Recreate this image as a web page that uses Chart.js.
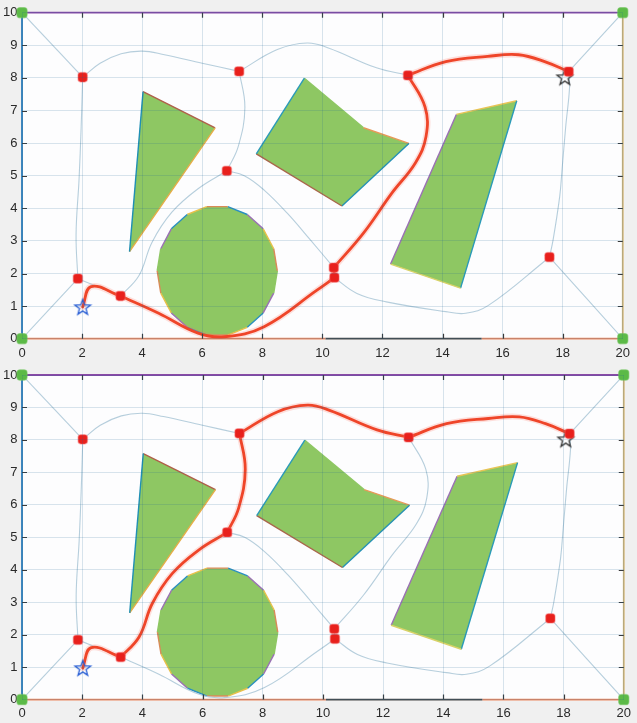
<!DOCTYPE html>
<html>
<head>
<meta charset="utf-8">
<title>Roadmap path planning</title>
<script src="https://cdn.jsdelivr.net/npm/chart.js@4.4.1/dist/chart.umd.min.js"></script>
<style>
  html, body { margin: 0; padding: 0; background: #f0f0f0; }
  #wrap { position: relative; width: 637px; height: 723px; overflow: hidden; background: #f0f0f0; }
  #c1, #c2 { position: absolute; left: 0; }
  #c1 { top: 0; }
  #c2 { top: 362px; }
</style>
</head>
<body>
<div id="wrap">
  <canvas id="c1" width="637" height="362"></canvas>
  <canvas id="c2" width="637" height="361"></canvas>
</div>
<script>
// ---- axes ----
const xTicks = [0, 2, 4, 6, 8, 10, 12, 14, 16, 18, 20];
const yTicks = [0, 1, 2, 3, 4, 5, 6, 7, 8, 9, 10];

// ---- workspace corners, roadmap nodes, start and goal ----
const corners = [[0, 0], [0, 10], [20, 10], [20, 0]];
const nodes = [
  [2.02, 8.02], [7.23, 8.2], [6.82, 5.15], [12.85, 8.08], [18.2, 8.19],
  [1.86, 1.84], [3.28, 1.31], [10.38, 2.18], [10.4, 1.87], [17.56, 2.5]
];
const startPoint = [[2.02, 0.97]];
const goalPoint = [[18.07, 8.02]];

// ---- obstacles (closed polygons) ----
const obstacleWedge = [[4.03, 7.58], [6.43, 6.47], [3.58, 2.67], [4.03, 7.58]];
const obstacleKite = [[9.4, 7.99], [11.37, 6.47], [12.88, 5.99], [10.65, 4.07], [7.8, 5.67], [9.4, 7.99]];
const obstacleSlab = [[12.27, 2.29], [14.46, 6.88], [16.47, 7.3], [14.6, 1.55], [12.27, 2.29]];
const obstacleDisc = [
  [8.5, 2.08], [8.38, 2.76], [8.03, 3.37], [7.5, 3.81], [6.85, 4.05], [6.15, 4.05],
  [5.5, 3.81], [4.97, 3.37], [4.62, 2.76], [4.5, 2.08], [4.62, 1.4], [4.97, 0.79],
  [5.5, 0.35], [6.15, 0.11], [6.85, 0.11], [7.5, 0.35], [8.03, 0.79], [8.38, 1.4], [8.5, 2.08]
];
const boundary = [[0, 0], [0, 10], [20, 10], [20, 0], [15.3, 0], [10.1, 0], [0, 0]];

// ---- roadmap edges ----
const edgeCornerTL = [[0, 10], [2.02, 8.02]];
const edgeTopLeft = [[2.02, 8.02], [2.6, 8.45], [3.3, 8.74], [4.0, 8.82], [4.7, 8.72], [6.0, 8.45], [7.23, 8.2]];
const edgeTopMid = [[7.23, 8.2], [8.5, 8.87], [9.49, 9.07], [10.2, 8.92], [11.8, 8.31], [12.85, 8.08]];
const edgeTopRight = [[12.85, 8.08], [14.11, 8.5], [15.5, 8.66], [16.53, 8.71], [17.4, 8.5], [18.2, 8.19]];
const edgeCornerTR = [[18.2, 8.19], [20, 10]];
const edgeLeftDown = [[2.02, 8.02], [1.97, 6.5], [1.9, 4.9], [1.8, 3.2], [1.86, 1.84]];
const edgeCornerBL = [[1.86, 1.84], [0, 0]];
const edgeLowLink = [[1.86, 1.84], [3.28, 1.31]];
const edgeRiseLeft = [[3.28, 1.31], [3.89, 1.93], [4.33, 2.96], [4.99, 3.88], [5.86, 4.6], [6.82, 5.15]];
const edgeMidUp = [[6.82, 5.15], [7.2, 5.9], [7.42, 7.1], [7.23, 8.2]];
const edgeMidDown = [[6.82, 5.15], [7.4, 5.0], [8.06, 4.56], [8.83, 3.85], [9.6, 3.03], [10.38, 2.18]];
const edgeCorridor = [[10.38, 2.18], [11.36, 3.23], [12.3, 4.45], [13.1, 5.4], [13.45, 6.2], [13.42, 7.1], [12.85, 8.08]];
const edgeUnderDisc = [[3.28, 1.31], [4.55, 0.78], [5.86, 0.17], [6.74, 0.06], [8.06, 0.37], [9.82, 1.49], [10.4, 1.87]];
const edgeBottomRight = [[10.4, 1.87], [11.15, 1.39], [12.13, 1.13], [14.11, 0.83], [14.77, 0.78], [15.54, 1.03], [17.56, 2.5]];
const edgeCornerBR = [[17.56, 2.5], [20, 0]];
const edgeRightUp = [[17.56, 2.5], [17.68, 3.03], [17.9, 4.36], [17.98, 5.2], [18.1, 6.5], [18.23, 7.73], [18.2, 8.19]];
const edgeTwinLink = [[10.4, 1.87], [10.38, 2.18]];
const startLeg = [[2.02, 0.97], [2.3, 1.6], [3.28, 1.31]];

const roadmap = [
  edgeCornerTL, edgeTopLeft, edgeTopMid, edgeTopRight, edgeCornerTR, edgeLeftDown,
  edgeCornerBL, edgeLowLink, edgeRiseLeft, edgeMidUp, edgeMidDown, edgeCorridor,
  edgeUnderDisc, edgeBottomRight, edgeCornerBR, edgeRightUp, edgeTwinLink
];

// planned routes: below the disc (upper plot) and through the gap above it (lower plot)
const routeLower = [startLeg, edgeUnderDisc, edgeTwinLink, edgeCorridor, edgeTopRight];
const routeUpper = [startLeg, edgeRiseLeft, edgeMidUp, edgeTopMid, edgeTopRight];

// ---- styling ----
const GREEN = '#8ec763';
const FONT = "'Liberation Sans Narrow', 'Liberation Sans', Arial, sans-serif";

const pts = arr => arr.map(([x, y]) => ({ x, y }));

function starImage(color) {
  const c = document.createElement('canvas');
  c.width = 20; c.height = 20;
  const g = c.getContext('2d');
  g.strokeStyle = color; g.lineWidth = 1.3; g.lineJoin = 'miter';
  g.beginPath();
  for (let i = 0; i < 10; i++) {
    const r = i % 2 ? 3.4 : 8.2;
    const a = -Math.PI / 2 + i * Math.PI / 5;
    const px = 10 + r * Math.cos(a), py = 10.5 + r * Math.sin(a);
    if (i) g.lineTo(px, py); else g.moveTo(px, py);
  }
  g.closePath(); g.stroke();
  return c;
}

function polygonSet(points, edgeColors) {
  return {
    data: pts(points), showLine: true, polyFill: GREEN,
    borderColor: GREEN, borderWidth: 1.4, pointRadius: 0, tension: 0, order: 60,
    segment: { borderColor: c => edgeColors[c.p0DataIndex % edgeColors.length] }
  };
}

function buildDatasets(route) {
  const ds = [];
  ds.push(polygonSet(obstacleWedge, ['#b0604a', '#e6ad48', '#1f8fb4']));
  ds.push(polygonSet(obstacleKite, [GREEN, '#e69a58', '#2591b4', '#a8664a', '#2a9ab8']));
  ds.push(polygonSet(obstacleSlab, ['#9a70b4', '#e8c455', '#2a9ab8', '#d8d268']));
  ds.push(polygonSet(obstacleDisc, ['#d98a58', '#e8c04a', '#9a70b4', '#2a8fc0', '#d98a58', '#e8c04a',
                                    '#2a8fc0', '#9a70b4', GREEN]));
  roadmap.forEach(e => ds.push({
    data: pts(e), showLine: true, borderColor: 'rgba(178,203,218,0.95)', borderWidth: 1.1,
    pointRadius: 0, tension: 0.4, order: 40
  }));
  route.forEach(e => {
    ds.push({ data: pts(e), showLine: true, borderColor: 'rgba(255,120,100,0.22)', borderWidth: 6,
              pointRadius: 0, tension: 0.4, order: 31, borderCapStyle: 'round', borderJoinStyle: 'round' });
    ds.push({ data: pts(e), showLine: true, borderColor: '#ef4529', borderWidth: 2.8,
              pointRadius: 0, tension: 0.4, order: 30, borderCapStyle: 'round', borderJoinStyle: 'round' });
  });
  ds.push({
    data: pts(boundary), showLine: true, pointRadius: 0, borderWidth: 1.8, clip: false, order: 35,
    borderColor: '#2b7bb9',
    segment: { borderColor: c => ['#2b7bb9', '#8a4aa6', '#d6b778', '#ec8a62', '#4a4a4a', '#ec8a62'][c.p0DataIndex] }
  });
  ds.push({ data: pts(startPoint), pointStyle: starImage('#2f63d6'), order: 25, clip: false });
  ds.push({ data: pts(goalPoint), pointStyle: starImage('#3c3c3c'), order: 25, clip: false });
  ds.push({ data: pts(nodes), pointStyle: 'rectRounded', pointRadius: 5.4, backgroundColor: '#e8201c',
            borderColor: 'rgba(245,100,100,0.4)', borderWidth: 1.5, order: 20, clip: false });
  ds.push({ data: pts(corners), pointStyle: 'rectRounded', pointRadius: 6, backgroundColor: '#5cba47',
            borderColor: 'rgba(120,200,100,0.5)', borderWidth: 1.2, order: 20, clip: false });
  return ds;
}

// white plot area, polygon fills under their outlines, inward tick marks on all four sides
const frame = {
  id: 'frame',
  beforeDraw(chart) {
    const a = chart.chartArea, g = chart.ctx;
    g.save(); g.fillStyle = '#fdfdfe';
    g.fillRect(a.left, a.top, a.right - a.left, a.bottom - a.top);
    g.restore();
  },
  beforeDatasetDraw(chart, args) {
    const ds = chart.data.datasets[args.index];
    if (!ds.polyFill) return;
    const g = chart.ctx, els = args.meta.data;
    g.save(); g.fillStyle = ds.polyFill; g.beginPath();
    els.forEach((p, i) => { if (i) g.lineTo(p.x, p.y); else g.moveTo(p.x, p.y); });
    g.closePath(); g.fill(); g.restore();
  },
  afterDatasetsDraw(chart) {
    const a = chart.chartArea, g = chart.ctx, sx = chart.scales.x, sy = chart.scales.y;
    g.save(); g.strokeStyle = '#3a3a3a'; g.lineWidth = 1.2; g.beginPath();
    xTicks.slice(1, -1).forEach(v => {
      const p = Math.round(sx.getPixelForValue(v)) + 0.5;
      g.moveTo(p, a.top); g.lineTo(p, a.top + 5);
      g.moveTo(p, a.bottom); g.lineTo(p, a.bottom - 5);
    });
    yTicks.slice(1, -1).forEach(v => {
      const p = Math.round(sy.getPixelForValue(v)) + 0.5;
      g.moveTo(a.left, p); g.lineTo(a.left + 5, p);
      g.moveTo(a.right, p); g.lineTo(a.right - 5, p);
    });
    g.stroke(); g.restore();
  }
};

function makeChart(id, route, padTop, xHeight, labelPad) {
  return new Chart(document.getElementById(id), {
    type: 'scatter',
    data: { datasets: buildDatasets(route) },
    plugins: [frame],
    options: {
      responsive: false, animation: false, events: [],
      layout: { padding: { top: padTop, right: 8, left: 0, bottom: 0 } },
      plugins: { legend: { display: false }, tooltip: { enabled: false } },
      elements: { point: { radius: 7, hoverRadius: 7 } },
      scales: {
        x: {
          type: 'linear', min: 0, max: 20,
          afterBuildTicks: s => { s.ticks = xTicks.map(v => ({ value: v })); },
          afterFit: s => { s.height = xHeight; },
          grid: { color: 'rgba(30,100,150,0.17)', lineWidth: 1, drawTicks: false, z: 1 },
          border: { display: false },
          ticks: { autoSkip: false, maxRotation: 0, padding: labelPad, color: '#2a2a2a',
                   font: { family: FONT, size: 13 } }
        },
        y: {
          type: 'linear', min: 0, max: 10,
          afterBuildTicks: s => { s.ticks = yTicks.map(v => ({ value: v })); },
          afterFit: s => { s.width = 22; },
          grid: { color: 'rgba(30,100,150,0.17)', lineWidth: 1, drawTicks: false, z: 1 },
          border: { display: false },
          ticks: { autoSkip: false, padding: 4.5, color: '#2a2a2a',
                   font: { family: FONT, size: 13 } }
        }
      }
    }
  });
}

makeChart('c1', routeLower, 12.7, 23.3, 7);
makeChart('c2', routeUpper, 13, 23.4, 6);
</script>
</body>
</html>
